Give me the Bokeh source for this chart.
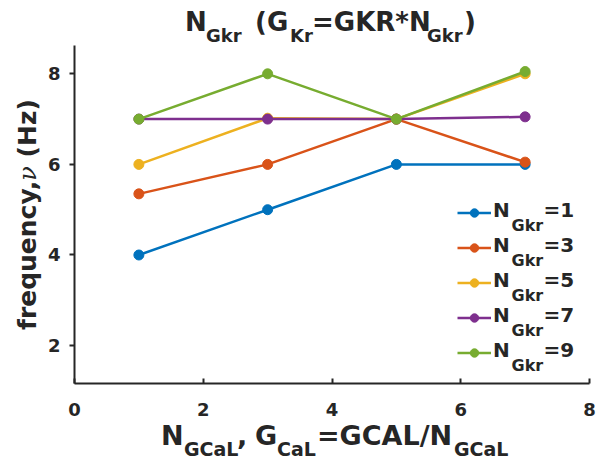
import math
from bokeh.plotting import figure
from bokeh.layouts import column, row
from bokeh.models import Label, Legend, LegendItem, FixedTicker, Range1d, Div
from bokeh.embed import file_html
from bokeh.resources import INLINE

# ---- data ----
x_vals = [1, 3, 5, 7]
n_gkr = ["1", "3", "5", "7", "9"]
freq_n1 = [4.0, 5.0, 6.0, 6.0]
freq_n3 = [5.35, 6.0, 7.0, 6.05]
freq_n5 = [6.0, 7.02, 7.0, 8.0]
freq_n7 = [7.0, 7.0, 7.0, 7.05]
freq_n9 = [7.0, 8.0, 7.0, 8.05]
series = [freq_n1, freq_n3, freq_n5, freq_n7, freq_n9]
colors = ["#0072BD", "#D95319", "#EDB120", "#7E2F8E", "#77AC30"]
x_ticks = [0, 2, 4, 6, 8]
y_ticks = [2, 4, 6, 8]

TXT = "#262626"
W, H = 603, 460
TOP_H = 45      # title strip height
BOT_H = 38      # x-label strip height
LEFT_W = 44     # y-label strip width
FRAME_L, FRAME_B = 73, 383  # page coords of frame bottom-left
BASE_FIX = 0.45  # baseline correction for Label (em)
ASC = 0.846      # DejaVu baseline position in a line-height:1 box (em)

p = figure(width=W - LEFT_W, height=H - TOP_H - BOT_H, x_range=Range1d(0, 8),
           y_range=Range1d(1.163, 8.625), output_backend="svg", toolbar_location=None,
           min_border_left=FRAME_L - LEFT_W, min_border_right=14, min_border_top=0,
           min_border_bottom=H - BOT_H - FRAME_B, margin=0)
p.outline_line_color = None
p.grid.visible = False
p.background_fill_color = "white"

for ax in (p.xaxis[0], p.yaxis[0]):
    ax.axis_line_width = 2
    ax.axis_line_color = TXT
    ax.major_tick_line_width = 2
    ax.major_tick_line_color = TXT
    ax.minor_tick_line_color = None
    ax.major_label_text_font = "DejaVu Sans"
    ax.major_label_text_font_style = "bold"
    ax.major_label_text_font_size = "18px"
    ax.major_label_text_color = TXT
p.xaxis.ticker = FixedTicker(ticks=x_ticks)
p.yaxis.ticker = FixedTicker(ticks=y_ticks)
p.xaxis.major_tick_in = 5
p.xaxis.major_tick_out = 0
p.yaxis.major_tick_in = 0
p.yaxis.major_tick_out = 5
p.xaxis.major_label_standoff = 19
p.yaxis.major_label_standoff = 9

items = []
for ys, c, n in zip(series, colors, n_gkr):
    r1 = p.line(x_vals, ys, line_color=c, line_width=2.5)
    r2 = p.scatter(x_vals, ys, marker="circle", size=10, fill_color=c, line_color=c)
    items.append(LegendItem(label=" ", renderers=[r1, r2]))

legend = Legend(items=items, location=(383, 20), glyph_width=34, glyph_height=21,
                label_height=21, spacing=14, padding=0, margin=0, label_standoff=0,
                label_width=0, label_text_font_size="6px",
                border_line_color=None, background_fill_alpha=0)
p.add_layout(legend)


def add_text(txt, px, py, size):
    p.add_layout(Label(x=px - FRAME_L, y=FRAME_B - py + BASE_FIX * size,
                       x_units="screen", y_units="screen",
                       text=txt, text_font="DejaVu Sans", text_font_style="bold",
                       text_font_size=f"{size}px", text_color=TXT, text_align="left",
                       text_baseline="alphabetic"))


# legend texts (inside the frame)
for i, n in enumerate(n_gkr):
    yc = 212.5 + i * 35
    add_text("N", 491.5, yc + 5.5, 20)
    add_text("Gkr", 510, yc + 20, 16)
    add_text("=" + n, 542, yc + 5.5, 20)


def span(txt, left, baseline, size):
    top = baseline - ASC * size
    return (f'<span style="position:absolute;left:{left}px;top:{top:.1f}px;'
            f'font-family:\'DejaVu Sans\';font-weight:bold;font-size:{size}px;'
            f'line-height:1;white-space:nowrap;color:{TXT};">{txt}</span>')


def strip(width, height, inner):
    return (f'<div style="position:relative;width:{width}px;height:{height}px;'
            f'overflow:visible;">{inner}</div>')


# title strip (page y 0..TOP_H)
title_html = strip(W, TOP_H, "".join([
    span("N", 185, 31, 26),
    span("Gkr", 206, 42, 18),
    span("(G", 255, 31, 26),
    span("Kr", 290, 42, 18),
    span("=GKR*N", 312, 31, 26),
    span("Gkr", 427, 42, 18),
    span(")", 464, 31, 26),
]))
title_div = Div(text=title_html, width=W, height=TOP_H, margin=0)

# x label strip (page y H-BOT_H..H)
y0 = H - BOT_H
xlab_html = strip(W, BOT_H, "".join([
    span("N", 161, 445 - y0, 27),
    span("GCaL", 184, 456 - y0, 19),
    span(",", 237, 445 - y0, 27),
    span("G", 255, 445 - y0, 27),
    span("CaL", 277, 456 - y0, 19),
    span("=GCAL/N", 317, 445 - y0, 27),
    span("GCaL", 454, 456 - y0, 19),
]))
xlab_div = Div(text=xlab_html, width=W, height=BOT_H, margin=0)

# y label strip (rotated text)
ysize = 25
ylab_inner = (f'<div style="position:absolute;left:{36 - ASC * ysize:.1f}px;top:{330 - TOP_H}px;'
              f'transform:rotate(-90deg);transform-origin:0 0;white-space:nowrap;line-height:1;'
              f'font-family:\'DejaVu Sans\';font-weight:bold;font-size:{ysize}px;color:{TXT};">'
              f'frequency,<span style="font-family:\'DejaVu Serif\';font-style:italic;'
              f'font-weight:normal;font-size:24px;">ν</span> (Hz)</div>')
ylab_div = Div(text=strip(LEFT_W, H - TOP_H - BOT_H, ylab_inner), width=LEFT_W,
               height=H - TOP_H - BOT_H, margin=0)

layout = column(title_div, row(ylab_div, p, margin=0, spacing=0), xlab_div, margin=0, spacing=0)

open("out.html", "w").write(file_html(layout, INLINE))
